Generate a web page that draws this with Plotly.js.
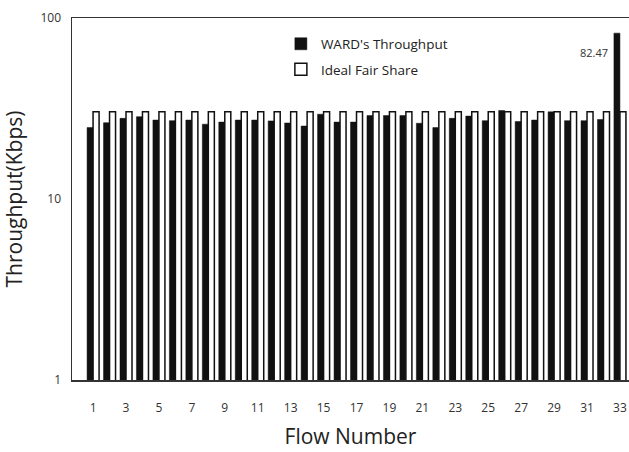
<!DOCTYPE html>
<html><head><meta charset="utf-8">
<script src="https://cdn.plot.ly/plotly-3.0.1.min.js"></script>
<style>html,body{margin:0;padding:0;background:#fff;}</style>
</head><body><div id="chart" style="width:629px;height:452px;"></div>
<script>
const flows = Array.from({length:33},(_, i)=>i+1);
const wardThroughput = [24.8,26.4,27.9,28.5,27.3,27.1,27.3,25.9,26.6,27.3,27.3,27.0,26.3,25.3,29.4,26.6,26.6,28.9,28.9,28.9,26.2,24.8,27.9,28.7,27.1,30.8,26.8,27.3,30.3,27.1,27.1,27.5,82.47];
const idealFairShare = [30.3,30.3,30.3,30.3,30.3,30.3,30.3,30.3,30.3,30.3,30.3,30.3,30.3,30.3,30.3,30.3,30.3,30.3,30.3,30.3,30.3,30.3,30.3,30.3,30.3,30.3,30.3,30.3,30.3,30.3,30.3,30.3,30.3];
const xTicks = [1,3,5,7,9,11,13,15,17,19,21,23,25,27,29,31,33];
const yTicks = [1,10,100];
const font = "Open Sans, sans-serif";

const traces = [
  {type:'bar', x:flows, y:wardThroughput, name:"WARD's Throughput", legendgroup:'a',
   marker:{color:'#111111', line:{color:'#111111', width:0.5}}},
  {type:'bar', x:flows, y:idealFairShare, name:'Ideal Fair Share', legendgroup:'b',
   marker:{color:'#ffffff', line:{color:'#111111', width:1.5}}}
];
const layout = {
  width:629, height:452,
  margin:{l:72, r:0, t:18, b:72},
  paper_bgcolor:'#fff', plot_bgcolor:'#fff',
  barmode:'group', bargap:0.27, bargroupgap:0,
  font:{family:font, color:'#222'},
  showlegend:true,
  legend:{x:0.375, y:0.971, xanchor:'left', yanchor:'top', bgcolor:'rgba(0,0,0,0)',
          font:{size:13.5, family:font, color:'#222'}, traceorder:'grouped', itemwidth:20,
          tracegroupgap:5, valign:'middle'},
  xaxis:{range:[-0.28,33.55], tickmode:'array', tickvals:xTicks, ticktext:xTicks.map(String),
         showline:true, linecolor:'#333', linewidth:1.5, mirror:true, ticks:'', showgrid:false,
         zeroline:false, tickfont:{size:12, color:'#333'}, ticklabelstandoff:16,
         title:{text:'Flow Number', font:{size:21, color:'#222'}, standoff:14}},
  yaxis:{type:'log', range:[0,2], tickmode:'array', tickvals:yTicks, ticktext:yTicks.map(String),
         showline:true, linecolor:'#333', linewidth:1.5, ticks:'', showgrid:false, zeroline:false,
         tickfont:{size:12, color:'#333'}, ticklabelstandoff:7,
         title:{text:'Throughput(Kbps)', font:{size:21, color:'#222'}, standoff:21}},
  annotations:[{x:33, y:Math.log10(wardThroughput[32]), xref:'x', yref:'y',
    text:String(wardThroughput[32]), showarrow:false, xanchor:'right', yanchor:'top',
    xshift:-10, yshift:-10, font:{size:11, family:font, color:'#333'}}]
};
Plotly.newPlot('chart', traces, layout, {displayModeBar:false, staticPlot:true});
</script></body></html>
